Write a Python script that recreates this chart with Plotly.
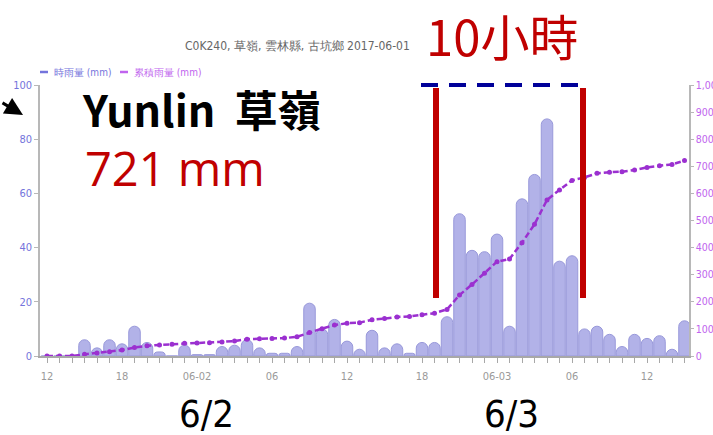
import pandas as pd
import plotly.graph_objects as go

# ---------------- data ----------------
start_time = "2017-06-01 12:00"
n_hours = 52
hourly_rain = [0, 0, 0, 6, 3, 6, 4.5, 11, 5, 1.5, 0, 4,
               0.5, 0.5, 3.5, 4, 6, 3, 1, 1, 3.5, 19.5, 10, 13.5,
               5.5, 2.5, 9.5, 3, 4.5, 1, 5, 5, 14.5, 52.5, 39, 38.5,
               45, 11, 58, 67, 87.5, 35, 37, 10, 11, 8, 3.5, 8,
               6.5, 7.5, 2.5, 13]
cumulative_rain = [0, 0, 0, 6, 11, 16, 22, 31, 38, 41, 43, 47,
                   48, 49, 52, 55, 62, 64, 65, 66, 71, 87, 101, 114,
                   121, 123, 134, 138, 144, 146, 152, 158, 172, 225, 264, 305,
                   348, 358, 418, 486, 576, 613, 648, 659, 674, 678, 680, 686,
                   696, 702, 707, 721]
tick_labels = ["12", "18", "06-02", "06", "12", "18", "06-03", "06", "12"]
title_text = "C0K240, 草嶺, 雲林縣, 古坑鄉 2017-06-01"
series_names = ["時雨量 (mm)", "累積雨量 (mm)"]

times = pd.date_range(start_time, periods=n_hours, freq="h")
tick_vals = times[::6][:len(tick_labels)]
HOUR_MS = 3600 * 1000

# ---------------- geometry (pixels) ----------------
W, H = 713, 435
L, R, T, B = 40, 24, 85, 79
PW, PH = W - L - R, H - T - B


def px(xp):
    return (xp - L) / PW


def py(yp):
    return (H - B - yp) / PH


small_font = "Liberation Sans Narrow, DejaVu Sans Condensed, Arial Narrow, sans-serif"
BAR_FILL = "#b2b2e8"
BAR_LINE = "#9898da"
LINE_COL = "#9b30d0"
LEFT_COL = "#7474dc"
RIGHT_COL = "#c064ee"
RED = "#c00000"

fig = go.Figure()
fig.add_trace(go.Bar(
    x=times, y=hourly_rain, name=series_names[0],
    width=0.92 * HOUR_MS,
    marker=dict(color=BAR_FILL, line=dict(color=BAR_LINE, width=1)),
    yaxis="y",
))
fig.add_trace(go.Scatter(
    x=times, y=cumulative_rain, name=series_names[1],
    mode="lines+markers",
    line=dict(color=LINE_COL, width=2.5, dash="6px,3px"),
    marker=dict(color=LINE_COL, size=5),
    yaxis="y2",
))

x0 = times[0] - pd.Timedelta(hours=0.56)
x1 = times[0] + pd.Timedelta(hours=51.36)

fig.update_layout(
    width=W, height=H,
    margin=dict(l=L, r=R, t=T, b=B, autoexpand=False),
    paper_bgcolor="white", plot_bgcolor="white",
    showlegend=False,
    barcornerradius=6,
    xaxis=dict(
        type="date", range=[x0, x1],
        tickvals=list(tick_vals), ticktext=tick_labels,
        showgrid=False, zeroline=False,
        showline=True, linecolor="#a8a8a8", linewidth=1.5,
        ticks="outside", ticklen=5, tickcolor="#a8a8a8",
        minor=dict(ticks="outside", ticklen=5, tickcolor="#a8a8a8",
                   dtick=HOUR_MS, showgrid=False),
        tickfont=dict(family=small_font, size=11, color="#9a9a9a"),
        ticklabelstandoff=4,
    ),
    yaxis=dict(
        range=[0, 100], tickvals=[0, 20, 40, 60, 80, 100],
        showgrid=False, zeroline=False,
        showline=True, linecolor="#b8b8b8", linewidth=1.5,
        ticks="outside", ticklen=4, tickcolor="#b8b8b8",
        tickfont=dict(family=small_font, size=11, color=LEFT_COL),
    ),
    yaxis2=dict(
        range=[0, 1000], tickvals=[0, 100, 200, 300, 400, 500, 600, 700, 800, 900, 1000],
        tickformat=",", overlaying="y", side="right",
        showgrid=False, zeroline=False,
        showline=True, linecolor="#b8b8b8", linewidth=1.5,
        ticks="outside", ticklen=3, tickcolor="#b8b8b8",
        tickfont=dict(family=small_font, size=10.5, color=RIGHT_COL),
    ),
)

annotations = [
    # chart title
    dict(text=title_text, x=px(297), y=py(46), xanchor="center", yanchor="middle",
         font=dict(family=small_font, size=12, color="#666666")),
    # legend texts
    dict(text=series_names[0], x=px(52), y=py(72), xanchor="left", yanchor="middle",
         font=dict(family=small_font, size=10, color=LEFT_COL)),
    dict(text=series_names[1], x=px(132), y=py(72), xanchor="left", yanchor="middle",
         font=dict(family=small_font, size=10, color=RIGHT_COL)),
    # overlay texts
    dict(text="<b>Yunlin  草嶺</b>", x=px(80), y=py(108), xanchor="left", yanchor="middle",
         font=dict(family="Noto Sans CJK TC, Noto Sans, sans-serif", size=43, color="black")),
    dict(text="721 mm", x=px(83), y=py(168), xanchor="left", yanchor="middle",
         font=dict(family="Open Sans, Noto Sans, sans-serif", size=47, color=RED)),
    dict(text="10小時", x=px(424), y=py(34), xanchor="left", yanchor="middle",
         font=dict(family="Noto Sans CJK TC, sans-serif", size=49, color=RED)),
    dict(text="6/2", x=px(206), y=py(414), xanchor="center", yanchor="middle",
         font=dict(family="Liberation Sans Narrow, DejaVu Sans Condensed, sans-serif", size=38, color="black")),
    dict(text="6/3", x=px(511), y=py(414), xanchor="center", yanchor="middle",
         font=dict(family="Liberation Sans Narrow, DejaVu Sans Condensed, sans-serif", size=38, color="black")),
    # arrow
    dict(text="", x=px(23), y=py(115), ax=-22, ay=-13, showarrow=True,
         arrowhead=2, arrowsize=1.2, arrowwidth=3, arrowcolor="black"),
]
for a in annotations:
    a.setdefault("xref", "paper")
    a.setdefault("yref", "paper")
    if "showarrow" not in a:
        a["showarrow"] = False
fig.update_layout(annotations=annotations)

shapes = [
    # legend symbols
    dict(type="line", x0=px(40), x1=px(48), y0=py(72), y1=py(72),
         line=dict(color=LEFT_COL, width=2.5)),
    dict(type="line", x0=px(120), x1=px(128), y0=py(72), y1=py(72),
         line=dict(color=RIGHT_COL, width=2.5)),
    # 10-hour bracket
    dict(type="line", x0=px(421), x1=px(578), y0=py(85), y1=py(85),
         line=dict(color="#000099", width=4, dash="17px,11px")),
    dict(type="line", x0=px(436), x1=px(436), y0=py(88), y1=py(298),
         line=dict(color=RED, width=6)),
    dict(type="line", x0=px(583), x1=px(583), y0=py(88), y1=py(298),
         line=dict(color=RED, width=6)),
]
for s in shapes:
    s["xref"] = "paper"
    s["yref"] = "paper"
fig.update_layout(shapes=shapes)

fig.write_html("out.html",
               config={"displayModeBar": False},
               post_script="document.body.style.margin='0';document.body.style.overflow='hidden';")
